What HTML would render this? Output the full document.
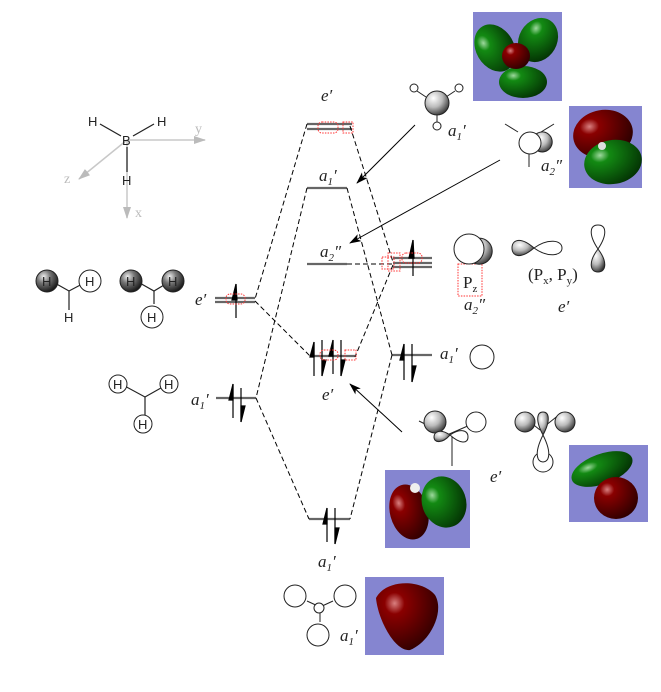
<!DOCTYPE html>
<html><head><meta charset="utf-8"><style>
html,body{margin:0;padding:0;background:#fff;}
svg{display:block;}
.it{font-family:"Liberation Serif",serif;font-style:italic;font-size:17px;fill:#222;}
.rm{font-family:"Liberation Serif",serif;font-size:17px;fill:#222;}
.h{font-family:"Liberation Sans",sans-serif;font-size:13px;fill:#222;}
.ax{font-family:"Liberation Serif",serif;font-size:14px;fill:#bbb;}
</style></head><body>
<svg width="661" height="692" viewBox="0 0 661 692" xmlns="http://www.w3.org/2000/svg">
<defs>
<radialGradient id="gs" cx="0.35" cy="0.3" r="0.75"><stop offset="0" stop-color="#fff"/><stop offset="0.5" stop-color="#bbb"/><stop offset="1" stop-color="#333"/></radialGradient>
<radialGradient id="gd" cx="0.35" cy="0.3" r="0.75"><stop offset="0" stop-color="#eee"/><stop offset="0.4" stop-color="#777"/><stop offset="1" stop-color="#111"/></radialGradient>
<radialGradient id="rg" cx="0.3" cy="0.3" r="0.8"><stop offset="0" stop-color="#d98080"/><stop offset="0.2" stop-color="#8a0000"/><stop offset="1" stop-color="#2a0000"/></radialGradient>
<radialGradient id="gg" cx="0.3" cy="0.3" r="0.8"><stop offset="0" stop-color="#9ed99e"/><stop offset="0.2" stop-color="#138a13"/><stop offset="1" stop-color="#033003"/></radialGradient>
<marker id="ah" markerWidth="12" markerHeight="8" refX="11" refY="4" orient="auto" markerUnits="userSpaceOnUse"><path d="M0,0 L12,4 L0,8 L3,4 Z" fill="#000"/></marker>
<marker id="ag" markerWidth="12" markerHeight="8" refX="11" refY="4" orient="auto" markerUnits="userSpaceOnUse"><path d="M0,0 L12,4 L0,8 Z" fill="#bbb"/></marker>
</defs>

<g stroke="#c8c8c8" stroke-width="1.5" fill="none">
<line x1="127" y1="140" x2="205" y2="140" marker-end="url(#ag)"/>
<line x1="127" y1="140" x2="79" y2="179" marker-end="url(#ag)"/>
<line x1="127" y1="140" x2="127" y2="218" marker-end="url(#ag)"/>
</g>
<g stroke="#222" stroke-width="1.2"><line x1="100" y1="124" x2="121" y2="136"/><line x1="154" y1="124" x2="133" y2="136"/><line x1="127" y1="147" x2="127" y2="172"/></g>
<text x="122" y="145" class="h">B</text><text x="88" y="126" class="h">H</text><text x="157" y="126" class="h">H</text><text x="122" y="185" class="h">H</text>
<text x="195" y="133" class="ax">y</text><text x="64" y="183" class="ax">z</text><text x="135" y="217" class="ax">x</text>

<g stroke="#222" stroke-width="1.2" fill="none">
<polyline points="53,282 69,291 86,282"/><line x1="69" y1="291" x2="69" y2="310"/>
<polyline points="138,282 154,291 169,282"/><line x1="154" y1="291" x2="154" y2="304"/>
<polyline points="121,384 145,397 168,384"/><line x1="145" y1="397" x2="145" y2="418"/>
</g>
<circle cx="47" cy="281" r="11" fill="url(#gd)" stroke="#222"/>
<circle cx="90" cy="281" r="11" fill="#fff" stroke="#222"/>
<circle cx="131" cy="281" r="11" fill="url(#gd)" stroke="#222"/>
<circle cx="173" cy="281" r="11" fill="url(#gd)" stroke="#222"/>
<circle cx="152" cy="317" r="11" fill="#fff" stroke="#222"/>
<circle cx="118" cy="384" r="9" fill="#fff" stroke="#222"/>
<circle cx="169" cy="384" r="9" fill="#fff" stroke="#222"/>
<circle cx="143" cy="424" r="9" fill="#fff" stroke="#222"/>
<g class="h"><text x="42" y="286">H</text><text x="85" y="286">H</text><text x="64" y="322">H</text><text x="126" y="286">H</text><text x="168" y="286">H</text><text x="147" y="322">H</text><text x="113" y="389">H</text><text x="164" y="389">H</text><text x="138" y="429">H</text></g>

<g stroke="#666" stroke-width="2.2">
<line x1="307" y1="124" x2="352" y2="124"/><line x1="307" y1="129" x2="352" y2="129"/>
<line x1="307" y1="188" x2="347" y2="188"/>
<line x1="307" y1="264" x2="347" y2="264"/>
<line x1="311" y1="356" x2="355" y2="356"/>
<line x1="309" y1="519" x2="350" y2="519"/>
<line x1="215" y1="298" x2="255" y2="298"/><line x1="215" y1="302" x2="255" y2="302"/>
<line x1="216" y1="398" x2="256" y2="398"/>
<line x1="393" y1="258" x2="432" y2="258"/><line x1="393" y1="263" x2="432" y2="263"/><line x1="393" y1="267" x2="432" y2="267"/>
<line x1="392" y1="355" x2="432" y2="355"/>
</g>

<g stroke="#000" stroke-width="1" stroke-dasharray="5,3" fill="none">
<line x1="307" y1="124" x2="255" y2="299"/>
<line x1="350" y1="126" x2="393" y2="262"/>
<line x1="347" y1="188" x2="392" y2="355"/>
<line x1="307" y1="188" x2="256" y2="398"/>
<line x1="255" y1="301" x2="311" y2="357"/>
<line x1="393" y1="265" x2="355" y2="357"/>
<line x1="256" y1="398" x2="309" y2="519"/>
<line x1="392" y1="355" x2="350" y2="519"/>
<line x1="347" y1="264" x2="393" y2="264"/>
</g>

<g stroke="#000" stroke-width="1" fill="none">
<line x1="415" y1="125" x2="357" y2="183" marker-end="url(#ah)"/>
<line x1="500" y1="160" x2="350" y2="243" marker-end="url(#ah)"/>
<line x1="402" y1="432" x2="350" y2="384" marker-end="url(#ah)"/>
</g>

<g stroke="#000" stroke-width="1.2" fill="#000">
<line x1="236" y1="284" x2="236" y2="318"/><path d="M236,284 L232,300 L237,300 Z"/>
<line x1="233" y1="384" x2="233" y2="418"/><path d="M233,384 L229,400 L233,400 Z"/>
<line x1="241" y1="388" x2="241" y2="422"/><path d="M241,422 L245,406 L241,406 Z"/>
<line x1="314" y1="342" x2="314" y2="376"/><path d="M314,342 L310,357 L314,357 Z"/>
<line x1="322" y1="340" x2="322" y2="376"/><path d="M322,376 L326,360 L322,360 Z"/>
<line x1="333" y1="340" x2="333" y2="374"/><path d="M333,340 L329,356 L333,356 Z"/>
<line x1="341" y1="340" x2="341" y2="376"/><path d="M341,376 L345,360 L341,360 Z"/>
<line x1="404" y1="344" x2="404" y2="380"/><path d="M404,344 L400,360 L404,360 Z"/>
<line x1="412" y1="344" x2="412" y2="382"/><path d="M412,382 L416,366 L412,366 Z"/>
<line x1="327" y1="508" x2="327" y2="542"/><path d="M327,508 L323,524 L327,524 Z"/>
<line x1="335" y1="508" x2="335" y2="544"/><path d="M335,544 L339,528 L335,528 Z"/>
<line x1="413" y1="240" x2="413" y2="276"/><path d="M413,240 L409,258 L414,258 Z"/>
</g>

<g stroke="#f33" stroke-width="1" stroke-dasharray="1.5,1.2" fill="none">
<rect x="318" y="122" width="20" height="11" rx="4"/><rect x="343" y="122" width="10" height="11"/>
<rect x="226" y="294" width="19" height="10" rx="4"/>
<rect x="320" y="350" width="18" height="10" rx="4"/><rect x="345" y="350" width="11" height="10"/>
<rect x="382" y="257" width="12" height="12"/><rect x="388" y="253" width="12" height="18"/><rect x="402" y="253" width="20" height="10" rx="4"/>
<rect x="458" y="264" width="24" height="32"/>
</g>

<g class="it">
<text x="321" y="101">e′</text>
<text x="319" y="181">a<tspan font-size="11" dy="4">1</tspan><tspan dy="-4">′</tspan></text>
<text x="320" y="257">a<tspan font-size="11" dy="4">2</tspan><tspan dy="-4">″</tspan></text>
<text x="195" y="305">e′</text>
<text x="191" y="405">a<tspan font-size="11" dy="4">1</tspan><tspan dy="-4">′</tspan></text>
<text x="322" y="400">e′</text>
<text x="318" y="567">a<tspan font-size="11" dy="4">1</tspan><tspan dy="-4">′</tspan></text>
<text x="440" y="359">a<tspan font-size="11" dy="4">1</tspan><tspan dy="-4">′</tspan></text>
<text x="448" y="136">a<tspan font-size="11" dy="4">1</tspan><tspan dy="-4">′</tspan></text>
<text x="541" y="171">a<tspan font-size="11" dy="4">2</tspan><tspan dy="-4">″</tspan></text>
<text x="464" y="310">a<tspan font-size="11" dy="4">2</tspan><tspan dy="-4">″</tspan></text>
<text x="558" y="312">e′</text>
<text x="490" y="482">e′</text>
<text x="340" y="641">a<tspan font-size="11" dy="4">1</tspan><tspan dy="-4">′</tspan></text>
</g>
<text x="463" y="288" class="rm">P<tspan font-size="11" dy="4">z</tspan></text>
<text x="528" y="280" class="rm">(P<tspan font-size="11" dy="4">x</tspan><tspan dy="-4">, P</tspan><tspan font-size="11" dy="4">y</tspan><tspan dy="-4">)</tspan></text>

<g stroke="#222" stroke-width="1" fill="none">
<line x1="417" y1="91" x2="426" y2="97"/><line x1="455" y1="91" x2="446" y2="97"/><line x1="437" y1="110" x2="437" y2="122"/>
<line x1="505" y1="124" x2="518" y2="132"/><line x1="554" y1="124" x2="541" y2="132"/><line x1="529" y1="150" x2="529" y2="167"/>
<line x1="419" y1="421" x2="447" y2="435"/><line x1="447" y1="435" x2="470" y2="425"/><line x1="452" y1="435" x2="452" y2="466"/>
<line x1="520" y1="414" x2="540" y2="430"/><line x1="560" y1="414" x2="540" y2="430"/>
<line x1="307" y1="601" x2="320" y2="607"/><line x1="333" y1="601" x2="320" y2="607"/><line x1="320" y1="607" x2="320" y2="622"/>
</g>
<circle cx="414" cy="88" r="4" fill="#fff" stroke="#222"/><circle cx="459" cy="88" r="4" fill="#fff" stroke="#222"/><circle cx="437" cy="126" r="4" fill="#fff" stroke="#222"/>
<circle cx="437" cy="103" r="12" fill="url(#gs)" stroke="#222"/>
<path d="M535,135 a10,10 0 1 1 3,16" fill="url(#gs)" stroke="#222"/>
<circle cx="530" cy="143" r="11" fill="#fff" stroke="#222"/>
<path d="M470,242 a13,13 0 1 1 2,20" fill="url(#gs)" stroke="#222"/>
<circle cx="469" cy="249" r="15" fill="#fff" stroke="#222"/>
<path d="M534,248 C520,236 512,240 512,248 C512,256 520,260 534,248 Z" fill="url(#gs)" stroke="#222"/>
<path d="M534,248 C548,238 562,240 562,248 C562,256 548,258 534,248 Z" fill="#fff" stroke="#222"/>
<path d="M598,249 C588,234 590,225 598,225 C606,225 608,234 598,249 Z" fill="#fff" stroke="#222"/>
<path d="M598,249 C588,262 590,272 598,272 C606,272 608,262 598,249 Z" fill="url(#gs)" stroke="#222"/>
<circle cx="435" cy="422" r="11" fill="url(#gs)" stroke="#222"/><circle cx="476" cy="422" r="10" fill="#fff" stroke="#222"/>
<path d="M450,435 C440,428 434,432 434,437 C434,443 442,444 450,435 Z" fill="url(#gs)" stroke="#222"/>
<path d="M450,435 C460,428 468,430 468,437 C468,444 460,444 450,435 Z" fill="#fff" stroke="#222"/>
<circle cx="525" cy="422" r="10" fill="url(#gs)" stroke="#222"/><circle cx="565" cy="422" r="10" fill="url(#gs)" stroke="#222"/>
<circle cx="543" cy="462" r="10" fill="#fff" stroke="#222"/>
<path d="M543,435 C533,455 538,462 543,462 C548,462 553,455 543,435 Z" fill="#fff" stroke="#222"/>
<path d="M543,435 C535,420 537,412 543,412 C549,412 551,420 543,435 Z" fill="url(#gs)" stroke="#222"/>
<circle cx="295" cy="596" r="11" fill="#fff" stroke="#222"/><circle cx="345" cy="596" r="11" fill="#fff" stroke="#222"/>
<circle cx="318" cy="635" r="11" fill="#fff" stroke="#222"/><circle cx="319" cy="608" r="5" fill="#fff" stroke="#222"/>
<circle cx="482" cy="357" r="12" fill="#fff" stroke="#222"/>

<rect x="473" y="12" width="89" height="89" fill="#8585d0"/>
<ellipse cx="495" cy="48" rx="19" ry="25" fill="url(#gg)" transform="rotate(-30 495 48)"/>
<ellipse cx="538" cy="40" rx="19" ry="23" fill="url(#gg)" transform="rotate(30 538 40)"/>
<ellipse cx="523" cy="82" rx="24" ry="16" fill="url(#gg)"/>
<ellipse cx="516" cy="56" rx="14" ry="13" fill="url(#rg)"/>

<rect x="569" y="106" width="73" height="82" fill="#8585d0"/>
<ellipse cx="603" cy="134" rx="30" ry="24" fill="url(#rg)" transform="rotate(-10 603 134)"/>
<ellipse cx="613" cy="162" rx="29" ry="22" fill="url(#gg)" transform="rotate(-10 613 162)"/>
<circle cx="602" cy="146" r="4" fill="#ddd"/>

<rect x="385" y="470" width="85" height="78" fill="#8585d0"/>
<ellipse cx="409" cy="512" rx="19" ry="28" fill="url(#rg)" transform="rotate(-15 409 512)"/>
<ellipse cx="444" cy="502" rx="22" ry="26" fill="url(#gg)" transform="rotate(-20 444 502)"/>
<circle cx="415" cy="488" r="5" fill="#eee"/>

<rect x="569" y="445" width="79" height="77" fill="#8585d0"/>
<ellipse cx="602" cy="469" rx="32" ry="15" fill="url(#gg)" transform="rotate(-20 602 469)"/>
<ellipse cx="616" cy="498" rx="22" ry="21" fill="url(#rg)"/>

<rect x="365" y="577" width="79" height="78" fill="#8585d0"/>
<path d="M376,598 C385,580 420,578 435,595 C445,612 430,642 410,650 C395,652 378,620 376,598 Z" fill="url(#rg)"/>
</svg>
</body></html>
